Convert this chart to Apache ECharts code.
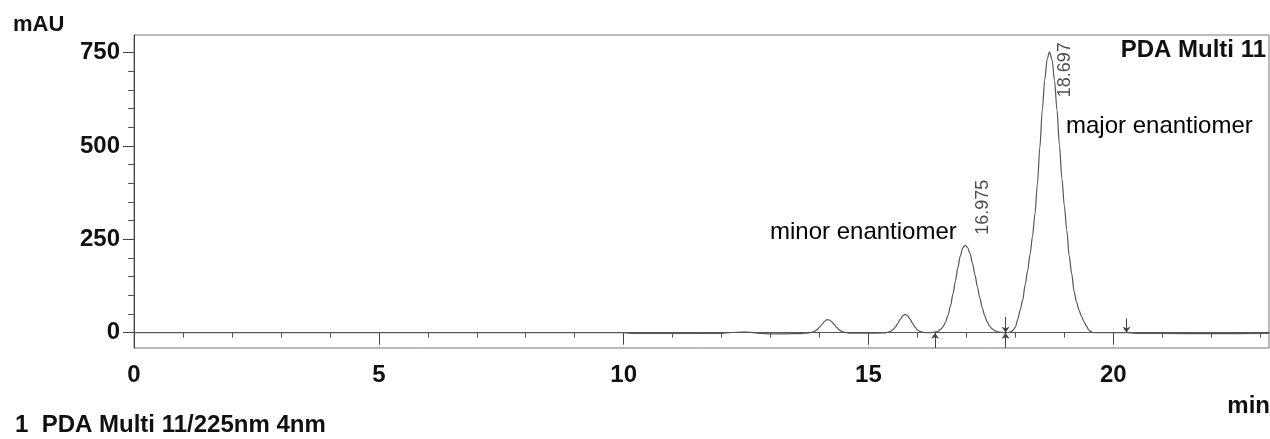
<!DOCTYPE html>
<html>
<head>
<meta charset="utf-8">
<script src="https://cdn.jsdelivr.net/npm/echarts@6/dist/echarts.min.js"></script>
<style>
  html, body { margin: 0; padding: 0; background: #ffffff; }
  #chart { width: 1270px; height: 439px; }
</style>
</head>
<body>
<div id="chart"></div>
<script>
// ---- data ----
const retentionTimes = [
  0, 1, 2, 3, 4, 5, 6, 7, 8, 9, 9.5, 10, 10.2, 11, 12, 12.2, 12.4, 12.6, 12.8, 13.0, 13.3, 13.6,
  13.70, 13.75, 13.80, 13.85, 13.90, 13.95, 14.00, 14.05, 14.10, 14.15, 14.20, 14.25, 14.30, 14.35,
  14.40, 14.45, 14.50, 14.55, 14.60, 14.8, 15.0, 15.2, 15.35,
  15.40, 15.45, 15.50, 15.55, 15.60, 15.65, 15.70, 15.75, 15.80, 15.85, 15.90, 15.95, 16.00, 16.05,
  16.10, 16.15, 16.20,
  16.275, 16.325, 16.375, 16.425, 16.475, 16.525, 16.575, 16.625, 16.675, 16.725, 16.775, 16.825,
  16.875, 16.925, 16.975, 17.025, 17.075, 17.125, 17.175, 17.225, 17.275, 17.325, 17.375, 17.425,
  17.475, 17.525, 17.575, 17.625, 17.675, 17.725, 17.775, 17.80,
  17.85, 17.90, 17.95, 18.00, 18.05, 18.10, 18.15, 18.20, 18.25, 18.30, 18.35, 18.40, 18.45, 18.50,
  18.55, 18.60, 18.65, 18.697, 18.75, 18.80, 18.85, 18.90, 18.95, 19.00, 19.05, 19.10, 19.15, 19.20,
  19.25, 19.30, 19.35, 19.40, 19.45, 19.50, 19.55, 19.60, 19.70, 20.0, 20.3, 20.5, 21, 22, 23, 23.18
];
const absorbance = [
  0, 0, 0, 0, 0, 0, 0, 0, 0, 0, 0.5, 0, -2, -2, -2, 0.5, 1.5, 1, -2, -3, -3, -2.5,
  -1.5, -1, 0, 1.5, 4, 8, 15, 22, 30, 35, 34, 29, 22, 14,
  8, 4, 1.5, 0, -1, -1.5, -1.5, -1, -0.5,
  1.3, 3.5, 7.5, 15, 25, 36, 45, 49, 45, 36, 25, 15, 7.5, 3.5,
  1.3, 0.5, 0,
  0.4, 0.9, 2, 4.4, 8.7, 16.3, 28.5, 46.7, 71.6, 103, 138, 174,
  205, 226.5, 234, 228, 211, 185.5, 154.8, 122.7, 92.3, 66, 44.8, 28.9,
  17.7, 10.3, 5.7, 3, 1.5, 0.7, 0.3, 0,
  0.5, 2, 6, 15, 36, 62, 88, 128, 166, 210, 258, 318, 398, 496,
  596, 677, 733, 752, 730, 675, 596, 503, 413, 340, 274, 205, 158, 110,
  82, 60, 44, 30, 18, 7, 2, 0.5, 0, 0, 0, -2, -2, -2.5, -2, -2
];
// labelled peaks (retention time, height)
const peakTimes = [16.975, 18.697];
const peakHeights = [234, 752];
// integration markers (time, from-value) -> arrow to baseline
const markerTimes = [16.36, 17.80, 17.80, 20.27];
const markerFrom = [-41, -41, 42, 38];
// axes
const xTickValues = [0, 5, 10, 15, 20];
const xMinorTickValues = [1, 2, 3, 4, 6, 7, 8, 9, 11, 12, 13, 14, 16, 17, 18, 19, 21, 22, 23];
const yTickValues = [0, 250, 500, 750];
const yMinorTickValues = [50, 100, 150, 200, 300, 350, 400, 450, 550, 600, 650, 700];
const xRange = [0, 23.18];
const yRange = [-41, 797];
const yUnit = 'mAU';
const xUnit = 'min';
const detectorName = 'PDA Multi 11';
const footnote = '1  PDA Multi 11/225nm 4nm';
const annotations = ['minor enantiomer', 'major enantiomer'];

const FONT = '"Liberation Sans", Arial, Helvetica, sans-serif';
const trace = retentionTimes.map((t, i) => [t, absorbance[i]]);
const peaks = peakTimes.map((t, i) => [t, peakHeights[i]]);
const markers = markerTimes.map((t, i) => [{ coord: [t, markerFrom[i]] }, { coord: [t, 0] }]);

const chart = echarts.init(document.getElementById('chart'), null, { renderer: 'canvas' });
const axisText = { fontFamily: FONT, fontSize: 24, color: '#111', fontWeight: 'bold' };

chart.setOption({
  animation: false,
  backgroundColor: '#ffffff',
  grid: {
    left: 134, right: 1, top: 35, bottom: 91,
    show: true, borderColor: '#777', borderWidth: 1, backgroundColor: 'transparent'
  },
  xAxis: [{
    type: 'value', min: xRange[0], max: xRange[1],
    axisLine: { show: true, lineStyle: { color: '#555', width: 1 } },
    axisTick: { show: true, length: 12, customValues: xTickValues, lineStyle: { color: '#444' } },
    axisLabel: { customValues: xTickValues, margin: 15, ...axisText },
    splitLine: { show: false }
  }, {
    type: 'value', min: xRange[0], max: xRange[1], position: 'bottom',
    axisLine: { show: false },
    axisTick: { show: true, length: 5, customValues: xMinorTickValues, lineStyle: { color: '#555' } },
    axisLabel: { show: false },
    splitLine: { show: false }
  }],
  yAxis: [{
    type: 'value', min: yRange[0], max: yRange[1],
    axisLine: { show: true, lineStyle: { color: '#444', width: 1 } },
    axisTick: { show: true, length: 11, customValues: yTickValues, lineStyle: { color: '#444' } },
    axisLabel: { customValues: yTickValues, margin: 14, ...axisText },
    splitLine: { show: false }
  }, {
    type: 'value', min: yRange[0], max: yRange[1], position: 'left',
    axisLine: { show: false },
    axisTick: { show: true, length: 6, customValues: yMinorTickValues, lineStyle: { color: '#555' } },
    axisLabel: { show: false },
    splitLine: { show: false }
  }],
  series: [{
    type: 'line',
    data: trace,
    showSymbol: false,
    smooth: 0.3,
    smoothMonotone: 'x',
    lineStyle: { color: '#555', width: 1.2 },
    markLine: {
      silent: true,
      symbol: ['none', 'arrow'],
      symbolSize: 6,
      label: { show: false },
      lineStyle: { color: '#444', width: 1, type: 'solid' },
      data: markers
    }
  }, {
    type: 'scatter',
    data: peaks,
    symbolSize: 0,
    silent: true,
    label: {
      show: true,
      position: 'inside',
      rotate: 90,
      formatter: p => p.value[0].toFixed(3),
      fontFamily: FONT, fontSize: 18, color: '#222'
    }
  }],
  graphic: [
    { type: 'text', left: 13, top: 14, style: { text: yUnit, font: 'bold 22px ' + FONT, fill: '#111' } },
    { type: 'text', right: 4, top: 38, style: { text: detectorName, font: 'bold 24px ' + FONT, fill: '#111' } },
    { type: 'text', left: 1066, top: 114, style: { text: annotations[1], font: '24px ' + FONT, fill: '#000' } },
    { type: 'text', left: 770, top: 220, style: { text: annotations[0], font: '24px ' + FONT, fill: '#000' } },
    { type: 'text', right: 0, top: 394, style: { text: xUnit, font: 'bold 24px ' + FONT, fill: '#111' } },
    { type: 'text', left: 15, top: 413, style: { text: footnote, font: 'bold 24px ' + FONT, fill: '#111' } }
  ]
});

// position rotated peak labels beside the peak tops
chart.setOption({
  series: [{}, {
    data: [
      { value: peaks[0], label: { offset: [38, 18] } },
      { value: peaks[1], label: { offset: [-18, 16] } }
    ]
  }]
});
</script>
</body>
</html>
